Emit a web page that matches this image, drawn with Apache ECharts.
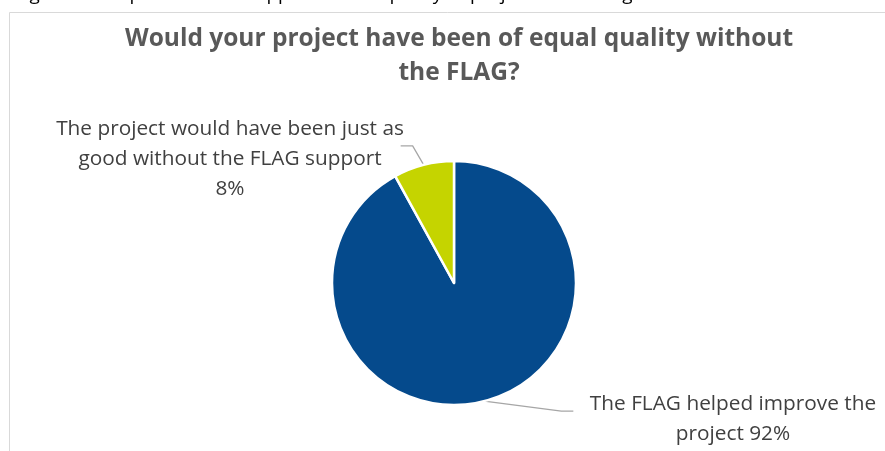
<!DOCTYPE html>
<html>
<head>
<meta charset="utf-8">
<script src="https://cdn.jsdelivr.net/npm/echarts@6/dist/echarts.min.js"></script>
<style>
  html, body { margin: 0; padding: 0; background: #fff; }
  #chart { width: 885px; height: 451px; }
</style>
</head>
<body>
<div id="chart"></div>
<script>
// Survey answers and their shares (%)
const categories = [
  'The FLAG helped improve the\nproject',
  'The project would have been just as\ngood without the FLAG support\n'
];
const shares = [92, 8];
const sliceColors = ['#054a8c', '#c5d400'];
const chartTitle = 'Would your project have been of equal quality without\nthe FLAG?';
const caption = 'Figure 11: Impact of FLAG support on the quality of projects according to the';

const chart = echarts.init(document.getElementById('chart'));

const font = '"Open Sans", Lato, sans-serif';

chart.setOption({
  animation: false,
  backgroundColor: '#fff',
  title: [
    {
      text: caption,
      left: 10,
      top: -20,
      textStyle: { fontFamily: font, fontSize: 19, fontWeight: 'normal', color: '#000' }
    }
  ],
  graphic: [
    {
      type: 'rect',
      shape: { x: 9.5, y: 12.5, width: 900, height: 460 },
      style: { fill: 'none', stroke: '#d9d9d9', lineWidth: 1 },
      silent: true,
      z: -1
    },
    {
      type: 'text',
      x: 459,
      y: 56,
      silent: true,
      style: {
        text: chartTitle,
        fontFamily: font,
        fontSize: 24.5,
        fontWeight: 'bold',
        fill: '#595959',
        lineHeight: 34,
        align: 'center',
        verticalAlign: 'middle'
      }
    }
  ],
  series: [
    {
      type: 'pie',
      center: [454, 283],
      radius: 122,
      startAngle: 90,
      clockwise: true,
      data: categories.map((name, i) => ({
        name,
        value: shares[i],
        itemStyle: { color: sliceColors[i] }
      })),
      itemStyle: { borderColor: '#fff', borderWidth: 2.5 },
      label: {
        show: true,
        formatter: p => p.name + (p.name.endsWith('\n') ? '' : ' ') + p.value + '%',
        fontFamily: font,
        fontSize: 20.8,
        color: '#404040',
        lineHeight: 30,
        align: 'center'
      },
      labelLine: {
        show: true,
        lineStyle: { color: '#a6a6a6', width: 1.3 }
      },
      labelLayout: function (params) {
        const p0 = params.labelLinePoints ? params.labelLinePoints[0] : [0, 0];
        if (params.dataIndex === 1) {
          const p1 = [p0[0] - 11, p0[1] - 19];
          const p2 = [p1[0] - 12, p1[1]];
          return {
            x: 230, y: 159, align: 'center', verticalAlign: 'middle',
            labelLinePoints: [p0, p1, p2]
          };
        }
        const q1 = [p0[0] + 77, p0[1] + 10];
        const q2 = [q1[0] + 12, q1[1]];
        return {
          x: 733, y: 419, align: 'center', verticalAlign: 'middle',
          labelLinePoints: [p0, q1, q2]
        };
      }
    }
  ]
});
</script>
</body>
</html>
